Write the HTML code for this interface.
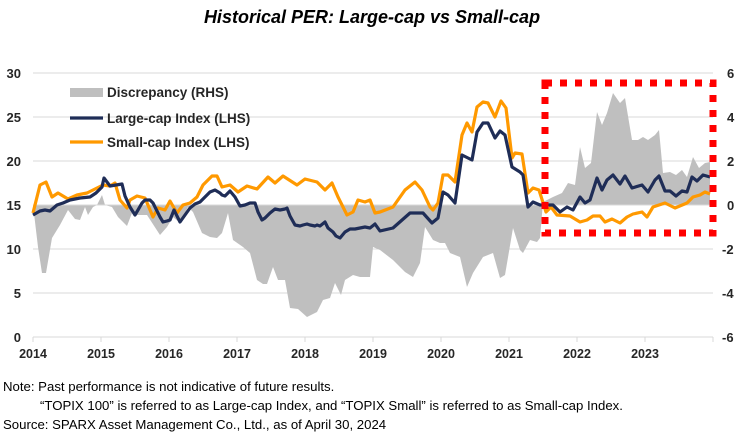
<!DOCTYPE html>
<html><head><meta charset="utf-8"><style>
body{margin:0;background:#fff;width:752px;height:439px;overflow:hidden;font-family:"Liberation Sans",sans-serif}
svg text{font-family:"Liberation Sans",sans-serif}
</style></head><body>
<svg width="752" height="439" viewBox="0 0 752 439" xmlns="http://www.w3.org/2000/svg">
<text x="372" y="23" text-anchor="middle" font-size="18" font-weight="bold" font-style="italic">Historical PER: Large-cap vs Small-cap</text>
<g stroke="#d9d9d9" stroke-width="1">
<line x1="33" x2="713" y1="73" y2="73"/><line x1="33" x2="713" y1="117" y2="117"/><line x1="33" x2="713" y1="161" y2="161"/><line x1="33" x2="713" y1="249" y2="249"/><line x1="33" x2="713" y1="293" y2="293"/>
</g>
<polygon fill="#bfbfbf" points="33,205 38,247 42,273 46,273 52,238 60,225 68,210 75,219 80,220 85,207 88,215 93,207 97,205 102,195 105,205 112,207 118,217 127,226 132,213 137,215 147,215 160,235 167,227 173,217 180,223 188,207 193,212 202,233 210,237 217,238 222,233 228,213 233,240 243,247 250,253 257,280 263,284 267,284 273,267 278,280 285,280 290,308 298,309 307,317 317,312 323,300 330,298 335,283 341,295 345,280 353,275 360,277 370,277 373,247 380,250 393,260 405,272 413,277 420,263 425,227 433,240 440,243 445,243 450,253 460,257 467,287 473,273 483,257 493,253 500,278 505,275 513,228 520,250 523,253 530,240 537,242 540,238 543,202 553,197 562,193 568,183 575,185 580,147 585,168 591,163 597,112 602,125 607,113 613,93 620,103 625,98 632,140 638,140 643,137 648,140 655,135 659,130 663,173 670,172 676,175 682,170 687,177 693,157 699,168 705,163 710,162 710,205"/>
<line x1="33" x2="713" y1="205" y2="205" stroke="#d9d9d9"/>
<line x1="33" x2="713" y1="337" y2="337" stroke="#d9d9d9"/>
<g stroke="#d9d9d9"><line x1="33" x2="33" y1="337" y2="342"/><line x1="101" x2="101" y1="337" y2="342"/><line x1="169" x2="169" y1="337" y2="342"/><line x1="237" x2="237" y1="337" y2="342"/><line x1="305" x2="305" y1="337" y2="342"/><line x1="373" x2="373" y1="337" y2="342"/><line x1="441" x2="441" y1="337" y2="342"/><line x1="509" x2="509" y1="337" y2="342"/><line x1="577" x2="577" y1="337" y2="342"/><line x1="645" x2="645" y1="337" y2="342"/><line x1="713" x2="713" y1="337" y2="342"/></g>
<polyline fill="none" stroke="#ff9900" stroke-width="3.2" stroke-linejoin="round" points="33,213 40,185 46,182 52,197 58,193 68,199 77,195 87,193 97,188 103,185 110,186 115,183 120,200 127,208 130,200 137,196 145,198 153,217 158,208 165,210 170,201 177,213 183,205 190,203 197,197 203,185 212,176 217,176 222,187 230,185 238,192 247,186 257,189 268,177 275,183 283,176 297,185 305,179 317,182 325,190 332,183 338,197 347,215 353,212 358,200 365,202 370,200 375,213 380,212 393,207 405,190 415,182 422,190 430,207 433,210 438,203 443,175 448,175 455,182 462,135 467,123 472,132 477,107 483,102 488,103 495,117 501,101 506,108 512,158 515,153 522,154 528,193 533,188 539,190 546,212 551,207 557,215 570,216 580,222 587,220 593,216 600,216 605,222 612,219 620,223 627,217 633,214 642,212 647,217 653,207 665,203 675,208 687,203 693,197 700,195 705,192 710,194"/>
<polyline fill="none" stroke="#1f2d57" stroke-width="3.2" stroke-linejoin="round" points="33,215 40,211 45,210 50,211 57,205 63,203 70,200 80,198 90,197 96,193 102,187 104,178 110,186 116,185 122,184 125,196 130,207 135,215 138,210 142,203 145,200 150,200 153,203 157,211 160,217 163,222 167,221 170,220 174,210 178,218 180,222 185,215 190,208 195,204 200,202 205,197 210,192 215,190 220,193 222,195 225,196 230,191 235,197 240,206 245,205 250,203 255,203 258,212 262,220 265,218 270,213 275,209 280,210 285,209 287,208 290,216 295,225 300,226 303,225 307,224 310,225 315,226 317,225 320,226 325,222 328,228 333,232 336,236 340,238 345,232 350,229 355,229 360,228 365,227 370,228 375,224 380,231 393,228 410,213 423,213 432,223 438,218 443,192 448,195 455,203 462,155 472,160 477,132 483,123 488,123 495,138 500,131 505,135 512,167 520,172 523,175 528,207 533,202 540,205 553,205 560,212 567,207 573,210 580,197 585,203 590,200 597,178 602,190 607,180 613,175 620,184 625,176 632,188 642,185 648,192 655,180 659,176 665,191 670,191 676,196 682,191 687,192 692,177 697,181 703,175 710,177"/>
<rect x="545" y="83" width="168" height="150" fill="none" stroke="#ff0000" stroke-width="7" stroke-dasharray="7 8"/>
<rect x="70" y="88" width="33" height="9" fill="#bfbfbf"/>
<line x1="70" x2="103" y1="118" y2="118" stroke="#1f2d57" stroke-width="3.2"/>
<line x1="70" x2="103" y1="142" y2="142" stroke="#ff9900" stroke-width="3.2"/>
<g font-size="13.5" font-weight="bold" fill="#262626">
<text x="107" y="97">Discrepancy (RHS)</text>
<text x="107" y="123">Large-cap Index (LHS)</text>
<text x="107" y="147">Small-cap Index (LHS)</text>
</g>
<g font-size="13" font-weight="bold" fill="#262626" text-anchor="end">
<text x="21" y="78">30</text><text x="21" y="122">25</text><text x="21" y="166">20</text><text x="21" y="210">15</text><text x="21" y="254">10</text><text x="21" y="298">5</text><text x="21" y="342">0</text>
</g>
<g font-size="13" font-weight="bold" fill="#262626" text-anchor="start">
<text x="727" y="78">6</text><text x="727" y="122">4</text><text x="727" y="166">2</text><text x="727" y="210">0</text><text x="722" y="254">-2</text><text x="722" y="298">-4</text><text x="722" y="342">-6</text>
</g>
<g font-size="12.5" font-weight="bold" fill="#262626" text-anchor="middle">
<text x="33" y="358">2014</text><text x="101" y="358">2015</text><text x="169" y="358">2016</text><text x="237" y="358">2017</text><text x="305" y="358">2018</text><text x="373" y="358">2019</text><text x="441" y="358">2020</text><text x="509" y="358">2021</text><text x="577" y="358">2022</text><text x="645" y="358">2023</text>
</g>
<g font-size="13.2" fill="#000">
<text x="3" y="391">Note: Past performance is not indicative of future results.</text>
<text x="40" y="410">“TOPIX 100” is referred to as Large-cap Index, and “TOPIX Small” is referred to as Small-cap Index.</text>
<text x="3" y="429">Source: SPARX Asset Management Co., Ltd., as of April 30, 2024</text>
</g>
</svg>
</body></html>
